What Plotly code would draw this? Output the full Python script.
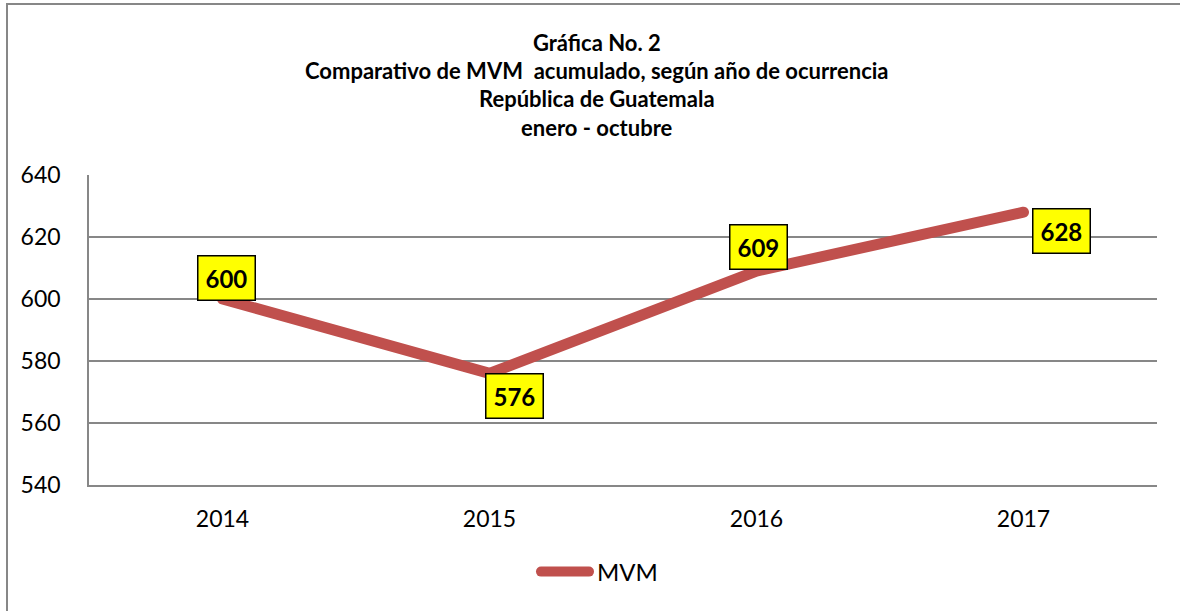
import plotly.graph_objects as go

years = ["2014", "2015", "2016", "2017"]
mvm = [600, 576, 609, 628]
label_shift_x = [4, 25, 2, 38]
label_shift_y = [21, -23, 24, -19]
y_ticks = [540, 560, 580, 600, 620, 640]

W, H = 1180, 611
L, R, T, B = 89, 23, 175, 126
pw, ph = W - L - R, H - T - B

def px_x(px):
    return (px - L) / pw

def px_y(py):
    return (H - B - py) / ph

FONT = "Lato, 'Open Sans', sans-serif"

fig = go.Figure()
fig.add_trace(go.Scatter(
    x=years, y=mvm, mode="lines", name="MVM",
    line=dict(color="#C0504D", width=11),
))

for i, v in enumerate(mvm):
    fig.add_annotation(
        x=i, y=v, xref="x", yref="y", text=f"<b>{v}</b>", showarrow=False,
        xshift=label_shift_x[i], yshift=label_shift_y[i],
        bgcolor="#FFFF00", bordercolor="#000000", borderwidth=1.5, borderpad=7,
        font=dict(family=FONT, size=24, color="#000000"),
    )

title_lines = [
    "Gráfica No. 2",
    "Comparativo de MVM  acumulado, según año de ocurrencia",
    "República de Guatemala",
    "enero - octubre",
]
title_y = [42, 70, 98, 127]
for t, yy in zip(title_lines, title_y):
    fig.add_annotation(
        x=px_x(597), y=px_y(yy), xref="paper", yref="paper",
        text=f"<b>{t}</b>", showarrow=False, xanchor="center", yanchor="middle",
        font=dict(family=FONT, size=22, color="#000000"),
    )

fig.add_shape(
    type="rect", xref="paper", yref="paper",
    x0=px_x(7), x1=px_x(1200), y0=px_y(4), y1=px_y(640),
    line=dict(color="#878787", width=2), fillcolor="rgba(0,0,0,0)", layer="below",
)

fig.update_layout(
    width=W, height=H,
    margin=dict(l=L, r=R, t=T, b=B, pad=0),
    paper_bgcolor="white", plot_bgcolor="white",
    font=dict(family=FONT, size=23, color="#000000"),
    showlegend=True,
    legend=dict(
        orientation="h", x=px_x(557), xanchor="left", y=px_y(572), yanchor="middle",
        font=dict(family=FONT, size=24, color="#000000"),
        bgcolor="rgba(0,0,0,0)",
    ),
    xaxis=dict(
        type="category", range=[-0.5, 3.5], showgrid=False,
        showline=True, linecolor="#878787", linewidth=1.5,
        ticks="", ticklabelstandoff=13, tickfont=dict(size=23),
        fixedrange=True,
    ),
    yaxis=dict(
        range=[540, 640], tickvals=y_ticks, showgrid=True, gridcolor="#878787", gridwidth=1.5,
        showline=True, linecolor="#878787", linewidth=1.5, zeroline=False,
        ticks="", ticklabelstandoff=22, tickfont=dict(size=23),
        fixedrange=True,
    ),
)

post = """
document.body.style.margin='0';
var gd = document.getElementById('{plot_id}');
var LEG_D = 'M-16,0h48';
function fixStyles(){
  gd.querySelectorAll('path.js-line').forEach(function(p){
    if (p.style.strokeLinecap !== 'round') {
      p.style.strokeLinecap = 'round'; p.style.strokeLinejoin = 'round';
    }
  });
  gd.querySelectorAll('g.legendlines path').forEach(function(p){
    if (p.getAttribute('d') !== LEG_D) { p.setAttribute('d', LEG_D); }
  });
  gd.querySelectorAll('g.legend [clip-path]').forEach(function(el){
    el.removeAttribute('clip-path');
  });
}
fixStyles();
new MutationObserver(fixStyles).observe(gd, {subtree: true, childList: true, attributes: true, attributeFilter: ['d', 'style', 'clip-path']});
"""
fig.write_html("out.html", post_script=post, config={"displayModeBar": False})
